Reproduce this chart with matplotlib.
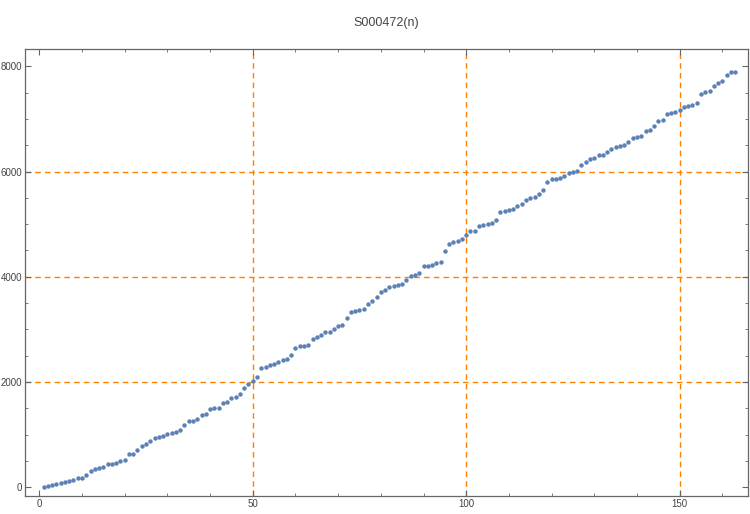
import matplotlib
matplotlib.use("Agg")
import matplotlib.pyplot as plt
from matplotlib.ticker import MultipleLocator

plt.rcParams['font.family'] = ['Liberation Sans', 'DejaVu Sans']

# valores, n = 1..163
n = list(range(1, 164))
valores = [
    0, 20, 40, 60, 80, 100, 115, 137, 175, 175,
    232, 308, 346, 365, 384, 441, 441, 460, 498, 523,
    631, 631, 707, 783, 821, 878, 935, 954, 973, 1011,
    1030, 1049, 1087, 1182, 1258, 1258, 1296, 1372, 1391, 1486,
    1505, 1505, 1600, 1619, 1695, 1714, 1772, 1886, 1962, 2019,
    2095, 2266, 2285, 2323, 2342, 2380, 2418, 2437, 2513, 2646,
    2684, 2684, 2703, 2817, 2855, 2893, 2950, 2950, 3007, 3064,
    3083, 3216, 3330, 3349, 3368, 3387, 3482, 3539, 3615, 3710,
    3748, 3806, 3825, 3844, 3863, 3939, 4015, 4034, 4072, 4205,
    4205, 4224, 4262, 4281, 4490, 4623, 4661, 4680, 4718, 4794,
    4870, 4870, 4965, 4984, 5003, 5022, 5079, 5231, 5250, 5269,
    5288, 5345, 5383, 5459, 5497, 5516, 5573, 5649, 5801, 5858,
    5858, 5877, 5915, 5972, 5991, 6010, 6124, 6181, 6238, 6257,
    6314, 6314, 6371, 6428, 6466, 6485, 6504, 6561, 6637, 6656,
    6675, 6770, 6789, 6865, 6960, 6979, 7093, 7112, 7131, 7169,
    7226, 7245, 7264, 7302, 7473, 7511, 7530, 7625, 7682, 7720,
    7834, 7891, 7891,
]
grade_x = [50, 100, 150]
grade_y = [2000, 4000, 6000]

cor_pontos = "#5E81B5"
cor_grade = "#FF8000"
cor_moldura = "#666666"

fig = plt.figure(figsize=(7.5, 5.14), dpi=100)
ax = fig.add_axes([0.0333, 0.035, 0.964, 0.869])

for gx in grade_x:
    ax.axvline(gx, color=cor_grade, lw=1.0, ls=(0, (4, 3)), zorder=1)
for gy in grade_y:
    ax.axhline(gy, color=cor_grade, lw=1.0, ls=(0, (4, 3)), zorder=1)

ax.plot(n, valores, "o", color=cor_pontos, markersize=3.2, markeredgewidth=0, zorder=3)

ax.set_xlim(-3.35, 166.0)
ax.set_ylim(-165, 8322)

ax.xaxis.set_major_locator(MultipleLocator(50))
ax.xaxis.set_minor_locator(MultipleLocator(10))
ax.yaxis.set_major_locator(MultipleLocator(2000))
ax.yaxis.set_minor_locator(MultipleLocator(500))

ax.tick_params(which="both", direction="in", top=True, right=True,
               color=cor_moldura, labelcolor="#444444", labelsize=7,
               labeltop=False, labelright=False)
ax.tick_params(which="major", length=4, width=0.8, pad=2)
ax.tick_params(which="minor", length=2, width=0.6)

for s in ax.spines.values():
    s.set_color(cor_moldura)
    s.set_linewidth(0.9)

fig.text(0.515, 0.955, "S000472(n)", ha="center", va="center",
         fontsize=9, color="#444444")

fig.savefig("out.png", dpi=100)
